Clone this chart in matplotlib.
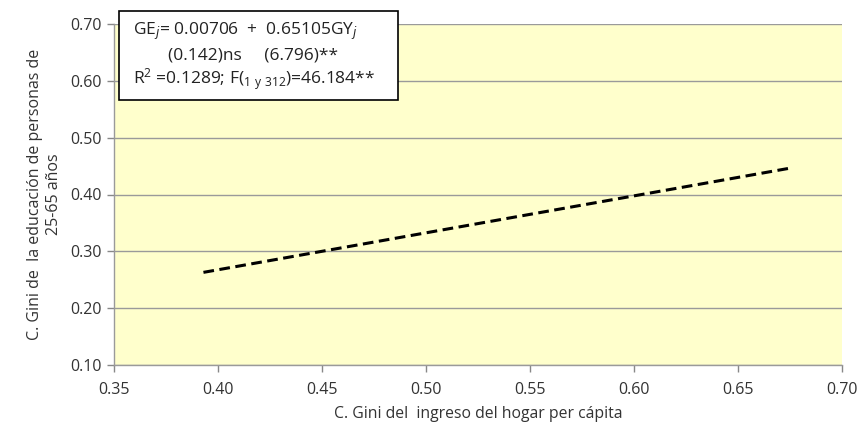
import matplotlib
matplotlib.use("Agg")
import matplotlib.pyplot as plt
from matplotlib.patches import Rectangle

# Data: fitted regression line endpoints
x_vals = [0.393, 0.676]
y_vals = [0.263, 0.447]

x_ticks = [0.35, 0.40, 0.45, 0.50, 0.55, 0.60, 0.65, 0.70]
y_ticks = [0.10, 0.20, 0.30, 0.40, 0.50, 0.60, 0.70]

x_label = "C. Gini del  ingreso del hogar per cápita"
y_label = "C. Gini de  la educación de personas de\n25-65 años"

plt.rcParams['font.family'] = ['Open Sans', 'DejaVu Sans']
plt.rcParams['mathtext.default'] = 'regular'

fig = plt.figure(figsize=(8.62, 4.28), dpi=100)
ax = fig.add_axes([114/862, 1-365/428, (842-114)/862, (365-24)/428])
ax.set_facecolor('#FFFFCC')

ax.plot(x_vals, y_vals, color='black', linestyle=(0, (3.5, 1.8)), linewidth=2.2, zorder=3)

ax.set_xlim(0.35, 0.70)
ax.set_ylim(0.10, 0.70)
ax.set_xticks(x_ticks)
ax.set_yticks(y_ticks)
ax.set_xticklabels([f"{v:.2f}" for v in x_ticks])
ax.set_yticklabels([f"{v:.2f}" for v in y_ticks])
ax.tick_params(axis='both', labelsize=11.5, colors='#888888', labelcolor='#333333', length=5, width=1)
ax.tick_params(axis='x', pad=7)
ax.tick_params(axis='y', pad=4)

ax.yaxis.grid(True, color='#9a9a9a', linewidth=1)
ax.set_axisbelow(True)
for s in ['top', 'right']:
    ax.spines[s].set_visible(False)
for s in ['left', 'bottom']:
    ax.spines[s].set_color('#9a9a9a')
    ax.spines[s].set_linewidth(1)

ax.set_xlabel(x_label, fontsize=11.3, color='#333333', labelpad=6)
ax.set_ylabel(y_label, fontsize=11.5, color='#333333', labelpad=6, linespacing=1.2)

# Annotation box
box = Rectangle((119/862, 1-100/428), (398-119)/862, (100-11)/428, transform=fig.transFigure,
                facecolor='white', edgecolor='black', linewidth=1.2, zorder=5)
fig.patches.append(box)
fs = 12.5
fig.text(133/862, 1-31/428, r"GE$_{\mathit{j}}$= 0.00706  +  0.65105GY$_{\mathit{j}}$", fontsize=fs, color='#222222', va='center', zorder=6)
fig.text(168/862, 1-55/428, "(0.142)ns     (6.796)**", fontsize=fs, color='#222222', va='center', zorder=6)
fig.text(133/862, 1-79/428, r"R$^{2}$ =0.1289; F($_{1\ y\ 312}$)=46.184**", fontsize=fs, color='#222222', va='center', zorder=6)

fig.savefig("out.png", dpi=100)
